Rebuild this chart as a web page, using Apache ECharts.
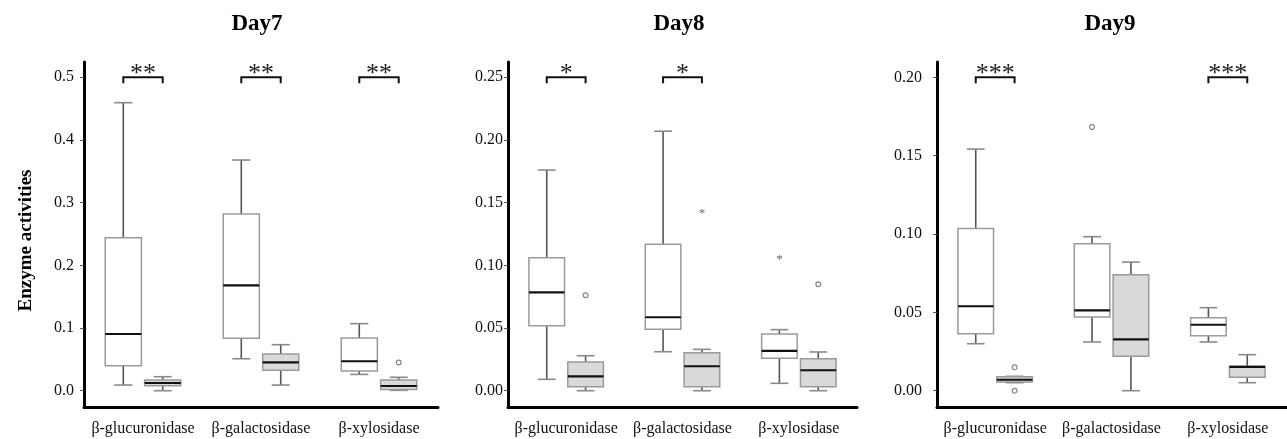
<!DOCTYPE html>
<html>
<head>
<meta charset="utf-8">
<script src="https://cdn.jsdelivr.net/npm/echarts@6/dist/echarts.min.js"></script>
<style>html,body{margin:0;padding:0;background:#fff}#c{width:1287px;height:439px}</style>
</head>
<body>
<div id="c"></div>
<script>
// ---------- DATA ----------
const categories = ['β-glucuronidase', 'β-galactosidase', 'β-xylosidase'];
const panelTitles = ['Day7', 'Day8', 'Day9'];

// box stats per category: [min, Q1, median, Q3, max]
const day7White = [[0.009, 0.040, 0.0905, 0.244, 0.4595], [0.051, 0.0835, 0.168, 0.282, 0.368], [0.026, 0.0314, 0.047, 0.084, 0.107]];
const day7Grey  = [[0.0, 0.008, 0.0123, 0.017, 0.0223], [0.009, 0.0325, 0.0452, 0.0585, 0.0734], [0.0006, 0.002, 0.0075, 0.017, 0.0214]];
const day8White = [[0.0091, 0.0519, 0.0785, 0.1061, 0.176], [0.0311, 0.049, 0.0586, 0.1168, 0.207], [0.0059, 0.0258, 0.0317, 0.0452, 0.0487]];
const day8Grey  = [[0.0, 0.0032, 0.0115, 0.0229, 0.0279], [0.0, 0.0032, 0.0195, 0.0303, 0.033], [0.0, 0.0032, 0.0163, 0.0255, 0.0309]];
const day9White = [[0.030, 0.0364, 0.0539, 0.1036, 0.1542], [0.0311, 0.047, 0.0513, 0.0938, 0.0983], [0.0311, 0.0351, 0.0421, 0.0466, 0.053]];
const day9Grey  = [[0.0051, 0.0056, 0.0070, 0.0089, 0.0092], [0.0, 0.022, 0.0328, 0.074, 0.0821], [0.0051, 0.0086, 0.0152, 0.0156, 0.023]];

// outliers: [categoryIndex, group, value, kind]
const day7Outliers = [[2, 'grey', 0.045, 'circle']];
const day8Outliers = [[0, 'grey', 0.0761, 'circle'], [1, 'grey', 0.1436, 'star'], [2, 'white', 0.1069, 'star'], [2, 'grey', 0.0849, 'circle']];
const day9Outliers = [[1, 'white', 0.1683, 'circle'], [0, 'grey', 0.0149, 'circle'], [0, 'grey', 0.0, 'circle']];

// significance marks per category
const day7Sig = ['**', '**', '**'];
const day8Sig = ['*', '*', ''];
const day9Sig = ['***', '', '***'];

// y-axis tick labels
const day7Ticks = [0.0, 0.1, 0.2, 0.3, 0.4, 0.5];
const day8Ticks = [0.00, 0.05, 0.10, 0.15, 0.20, 0.25];
const day9Ticks = [0.00, 0.05, 0.10, 0.15, 0.20];

// ---------- LAYOUT / STYLE ----------
const SERIF = '"Liberation Serif", "DejaVu Serif", serif';
const OFF = 0.167;   // box centre offset as fraction of band
const HALF = 0.153;  // box half width as fraction of band

const panels = [
  { title: panelTitles[0], titleX: 252, left: 84, width: 354, min: -0.026, max: 0.5244, ticks: day7Ticks, dec: 1, margin: 10,
    white: day7White, grey: day7Grey, out: day7Outliers, sig: day7Sig, name: 'Enzyme activities' },
  { title: panelTitles[1], titleX: 674, left: 508, width: 349, min: -0.013, max: 0.2622, ticks: day8Ticks, dec: 2, margin: 5,
    white: day8White, grey: day8Grey, out: day8Outliers, sig: day8Sig, name: '' },
  { title: panelTitles[2], titleX: 1105, left: 937, width: 349, min: -0.0104, max: 0.2098, ticks: day9Ticks, dec: 2, margin: 15,
    white: day9White, grey: day9Grey, out: day9Outliers, sig: day9Sig, name: '' }
];

function boxRenderer(sign, fill) {
  return function (params, api) {
    const i = api.value(0);
    const band = api.size([1, 0])[0];
    const xc = api.coord([i, 0])[0] + sign * band * OFF;
    const hw = band * HALF;
    const y = k => api.coord([i, api.value(k)])[1];
    const yMin = y(1), yQ1 = y(2), yMed = y(3), yQ3 = y(4), yMax = y(5);
    const wl = { stroke: '#555', lineWidth: 1.6 };
    const cap = { stroke: '#8a8a8a', lineWidth: 1.6 };
    return {
      type: 'group',
      children: [
        { type: 'line', shape: { x1: xc, y1: yQ3, x2: xc, y2: yMax }, style: wl },
        { type: 'line', shape: { x1: xc, y1: yQ1, x2: xc, y2: yMin }, style: wl },
        { type: 'line', shape: { x1: xc - hw / 2, y1: yMax, x2: xc + hw / 2, y2: yMax }, style: cap },
        { type: 'line', shape: { x1: xc - hw / 2, y1: yMin, x2: xc + hw / 2, y2: yMin }, style: cap },
        { type: 'rect', shape: { x: xc - hw, y: yQ3, width: hw * 2, height: Math.max(yQ1 - yQ3, 1) },
          style: { fill: fill, stroke: '#9a9a9a', lineWidth: 1.5 } },
        { type: 'line', shape: { x1: xc - hw, y1: yMed, x2: xc + hw, y2: yMed }, style: { stroke: '#111', lineWidth: 2.2 } }
      ]
    };
  };
}

function outlierRenderer(params, api) {
  const i = api.value(0);
  const sign = api.value(1);
  const band = api.size([1, 0])[0];
  const p = api.coord([i, api.value(2)]);
  const xc = p[0] + sign * band * OFF;
  if (api.value(3) === 1) {
    return { type: 'text', x: xc, y: p[1] + 3, style: { text: '*', fontSize: 13, fontFamily: SERIF, fill: '#666', align: 'center', verticalAlign: 'middle' } };
  }
  return { type: 'circle', shape: { cx: xc, cy: p[1], r: 2.4 }, style: { fill: '#fff', stroke: '#888', lineWidth: 1.2 } };
}

const categoriesSig = {};
function sigRenderer(params, api) {
  const i = api.value(0);
  const band = api.size([1, 0])[0];
  const p = api.coord([i, api.value(1)]);
  const xl = p[0] - band * OFF, xr = p[0] + band * OFF;
  const label = categoriesSig[params.seriesIndex][i];
  return {
    type: 'group',
    children: [
      { type: 'polyline', shape: { points: [[xl, p[1] + 6], [xl, p[1]], [xr, p[1]], [xr, p[1] + 6]] },
        style: { stroke: '#111', lineWidth: 2, fill: null } },
      { type: 'text', x: p[0], y: p[1] - 3, style: { text: label, fontSize: 26, fontFamily: SERIF, fill: '#222', align: 'center', verticalAlign: 'middle' } }
    ]
  };
}

const option = { animation: false, backgroundColor: '#fff', title: [], grid: [], xAxis: [], yAxis: [], series: [] };

panels.forEach((P, k) => {
  option.title.push({ text: P.title, left: P.titleX, top: 8, textAlign: 'center',
    textStyle: { fontFamily: SERIF, fontSize: 23, fontWeight: 'bold', color: '#000' } });
  option.grid.push({ left: P.left, width: P.width, top: 62, height: 345 });
  option.xAxis.push({
    type: 'category', gridIndex: k, data: categories, boundaryGap: true,
    axisLine: { onZero: false, lineStyle: { color: '#000', width: 3 } },
    axisTick: { alignWithLabel: true, length: 5, lineStyle: { color: '#555', width: 1 } },
    axisLabel: { fontFamily: SERIF, fontSize: 16, color: '#111', margin: 14, interval: 0 },
    splitLine: { show: false }
  });
  option.yAxis.push({
    type: 'value', gridIndex: k, min: P.min, max: P.max,
    name: P.name, nameLocation: 'middle', nameGap: 48, nameRotate: 90,
    nameTextStyle: { fontFamily: SERIF, fontSize: 19, fontWeight: 'bold', color: '#000', padding: [0, 12, 0, 0] },
    axisLine: { show: true, lineStyle: { color: '#000', width: 3 } },
    axisTick: { show: true, length: 4, customValues: P.ticks, lineStyle: { color: '#555', width: 1 } },
    axisLabel: { customValues: P.ticks, fontFamily: SERIF, fontSize: 16, color: '#111', margin: P.margin,
      formatter: v => Number(v).toFixed(P.dec) },
    splitLine: { show: false }
  });
  const topTick = P.ticks[P.ticks.length - 1];
  option.series.push({
    type: 'custom', xAxisIndex: k, yAxisIndex: k, renderItem: boxRenderer(-1, '#ffffff'),
    encode: { x: 0, y: [1, 2, 3, 4, 5] },
    data: P.white.map((s, i) => [i].concat(s))
  });
  option.series.push({
    type: 'custom', xAxisIndex: k, yAxisIndex: k, renderItem: boxRenderer(1, '#d9d9d9'),
    encode: { x: 0, y: [1, 2, 3, 4, 5] },
    data: P.grey.map((s, i) => [i].concat(s))
  });
  option.series.push({
    type: 'custom', xAxisIndex: k, yAxisIndex: k, renderItem: outlierRenderer,
    encode: { x: 0, y: 2 },
    data: P.out.map(o => [o[0], o[1] === 'grey' ? 1 : -1, o[2], o[3] === 'star' ? 1 : 0])
  });
  categoriesSig[option.series.length] = P.sig;
  option.series.push({
    type: 'custom', xAxisIndex: k, yAxisIndex: k, renderItem: sigRenderer,
    encode: { x: 0, y: 1 },
    data: P.sig.map((s, i) => [i, topTick]).filter((d, i) => P.sig[i] !== '')
  });
});

const chart = echarts.init(document.getElementById('c'), null, { renderer: 'canvas' });
chart.setOption(option);
</script>
</body>
</html>
